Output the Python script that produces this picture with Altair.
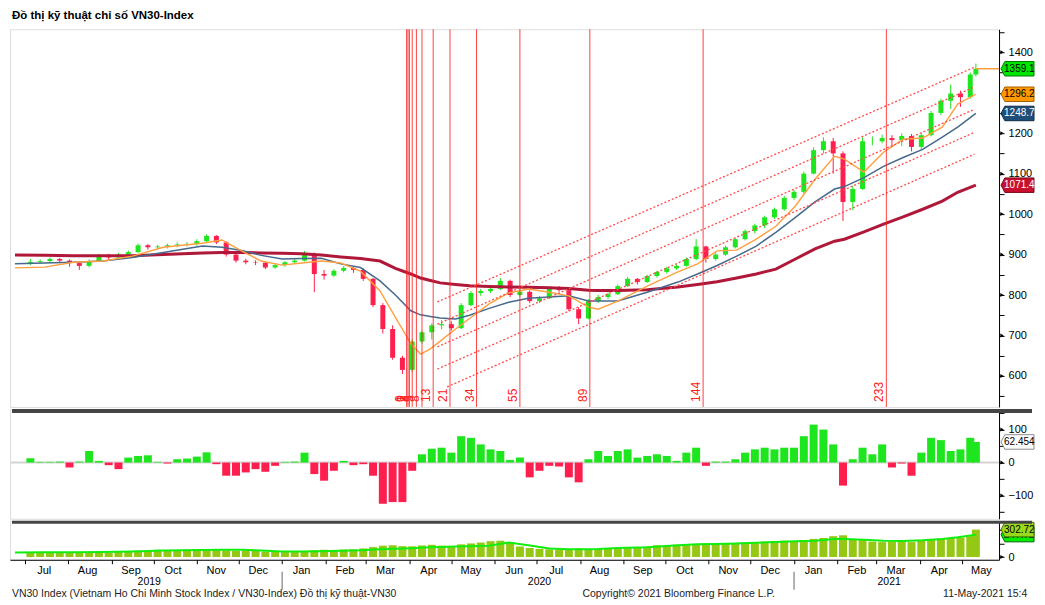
import altair as alt
import pandas as pd

FONT = "Liberation Sans"
W = 990
H1, H2, H3 = 378, 110, 39
GREEN = "#1ee61e"
RED = "#ff1f4f"
ZW = "\u200b"

# ---------------- weekly candles ----------------
dates = [
    "2019-07-05", "2019-07-12", "2019-07-19", "2019-07-26", "2019-08-02", "2019-08-09", "2019-08-16", "2019-08-23",
    "2019-08-30", "2019-09-06", "2019-09-13", "2019-09-20", "2019-09-27", "2019-10-04", "2019-10-11", "2019-10-18",
    "2019-10-25", "2019-11-01", "2019-11-08", "2019-11-15", "2019-11-22", "2019-11-29", "2019-12-06", "2019-12-13",
    "2019-12-20", "2019-12-27",
    "2020-01-03", "2020-01-10", "2020-01-17", "2020-01-24", "2020-01-31", "2020-02-07", "2020-02-14", "2020-02-21",
    "2020-02-28", "2020-03-06", "2020-03-13", "2020-03-20", "2020-03-27", "2020-04-03", "2020-04-10", "2020-04-17",
    "2020-04-24", "2020-05-01", "2020-05-08", "2020-05-15", "2020-05-22", "2020-05-29", "2020-06-05", "2020-06-12",
    "2020-06-19", "2020-06-26", "2020-07-03", "2020-07-10", "2020-07-17", "2020-07-24", "2020-07-31", "2020-08-07",
    "2020-08-14", "2020-08-21", "2020-08-28", "2020-09-04", "2020-09-11", "2020-09-18", "2020-09-25", "2020-10-02",
    "2020-10-09", "2020-10-16", "2020-10-23", "2020-10-30", "2020-11-06", "2020-11-13", "2020-11-20", "2020-11-27",
    "2020-12-04", "2020-12-11", "2020-12-18", "2020-12-25",
    "2021-01-01", "2021-01-08", "2021-01-15", "2021-01-22", "2021-01-29", "2021-02-05", "2021-02-12", "2021-02-19",
    "2021-02-26", "2021-03-05", "2021-03-12", "2021-03-19", "2021-03-26", "2021-04-02", "2021-04-09", "2021-04-16",
    "2021-04-23", "2021-04-30", "2021-05-07", "2021-05-11",
]
opens = [
    878, 882, 884, 889, 885, 879, 872, 884, 898, 893,
    900, 906, 923, 918, 920, 923, 925, 926, 933, 946,
    930, 900, 885, 881, 880, 868, 874, 881, 885, 900,
    852, 848, 860, 867, 862, 840, 775, 716, 645, 615,
    685, 708, 725, 728, 718, 775, 805, 810, 815, 835,
    800, 808, 785, 792, 815, 812, 765, 742, 785, 795,
    802, 822, 840, 832, 847, 857, 866, 872, 889, 920,
    889, 900, 918, 938, 958, 972, 992, 1012, 1040, 1055,
    1100, 1158, 1180, 1150, 1030, 1062, 1180, 1180, 1188, 1183,
    1193, 1166, 1195, 1250, 1280, 1298, 1289, 1345,
]
highs = [
    889, 888, 893, 892, 888, 882, 888, 902, 902, 904,
    910, 927, 926, 924, 927, 930, 931, 938, 950, 948,
    933, 903, 890, 886, 882, 878, 884, 890, 909, 905,
    862, 864, 872, 870, 866, 842, 780, 725, 650, 690,
    712, 730, 738, 735, 780, 810, 815, 822, 842, 838,
    815, 812, 798, 820, 822, 815, 770, 790, 800, 806,
    826, 845, 842, 850, 860, 870, 876, 893, 938, 922,
    905, 922, 942, 962, 976, 996, 1016, 1045, 1060, 1105,
    1165, 1190, 1188, 1155, 1070, 1190, 1192, 1196, 1195, 1200,
    1198, 1200, 1255, 1285, 1320, 1305, 1350, 1372,
]
lows = [
    874, 878, 881, 880, 870, 862, 868, 882, 888, 890,
    896, 904, 912, 913, 915, 918, 920, 922, 930, 926,
    895, 880, 876, 874, 864, 865, 870, 878, 883, 807,
    838, 845, 856, 855, 835, 770, 705, 640, 605, 610,
    680, 690, 715, 712, 716, 772, 798, 805, 812, 795,
    796, 780, 780, 790, 808, 760, 728, 740, 780, 790,
    800, 820, 826, 830, 843, 853, 862, 870, 886, 880,
    885, 897, 915, 935, 952, 965, 988, 1008, 1035, 1050,
    1098, 1150, 1100, 983, 1010, 1060, 1170, 1175, 1165, 1168,
    1155, 1160, 1192, 1245, 1260, 1265, 1285, 1340,
]
closes = [
    882, 884, 889, 885, 879, 872, 884, 898, 893, 900,
    906, 923, 918, 920, 923, 925, 926, 933, 946, 930,
    900, 885, 881, 880, 868, 874, 881, 885, 900, 852,
    848, 860, 867, 862, 840, 775, 716, 645, 615, 685,
    708, 725, 728, 718, 775, 805, 810, 815, 835, 800,
    808, 785, 792, 815, 812, 765, 742, 785, 795, 802,
    822, 840, 832, 847, 857, 866, 872, 889, 920, 889,
    900, 918, 938, 958, 972, 992, 1012, 1040, 1055, 1100,
    1158, 1180, 1150, 1030, 1062, 1180, 1180, 1188, 1183, 1193,
    1166, 1195, 1250, 1280, 1298, 1289, 1345, 1359.19,
]
oscillator = [
    13, 2, 2, 3, -15, 3, 35, 5, -8, -20,
    15, 20, 22, 2, -3, 10, 12, 18, 31, -5,
    -40, -40, -30, -20, -28, -10, 2, 3, 30, -35,
    -55, -25, 5, -8, -5, -40, -125, -120, -120, -25,
    25, 42, 45, 30, 80, 75, 55, 40, 35, 8,
    15, -45, -25, -10, -12, -45, -60, 10, 35, 20,
    35, 40, 15, 20, 25, 20, 5, 30, 45, -10,
    3, 3, 10, 30, 40, 45, 40, 45, 45, 80,
    115, 100, 55, -70, 10, 45, 25, 55, -15, -3,
    -40, 30, 75, 68, 35, 40, 75, 62.4543,
]
volume = [
    45, 48, 50, 47, 52, 55, 48, 50, 46, 60,
    62, 70, 65, 80, 78, 75, 82, 85, 78, 76,
    74, 70, 72, 68, 60, 58, 55, 56, 60, 75,
    80, 78, 82, 85, 95, 110, 125, 130, 120, 118,
    128, 135, 125, 120, 140, 150, 160, 175, 180, 165,
    115, 100, 90, 85, 82, 88, 95, 85, 90, 100,
    95, 110, 105, 115, 130, 125, 135, 140, 145, 150,
    145, 155, 150, 160, 165, 170, 175, 180, 170, 185,
    200, 210, 230, 240, 200, 190, 170, 165, 170, 175,
    165, 190, 200, 205, 210, 215, 230, 302.727,
]

# ---------------- moving averages ----------------
ma_dates = [
    "2019-06-24", "2019-07-15", "2019-08-05", "2019-08-26", "2019-09-16", "2019-10-08", "2019-11-05", "2019-11-19",
    "2019-12-03", "2019-12-17",
    "2020-01-01", "2020-01-15", "2020-01-29", "2020-02-12", "2020-02-26", "2020-03-11", "2020-03-22", "2020-04-02",
    "2020-04-09", "2020-04-16", "2020-04-23", "2020-05-04", "2020-05-14", "2020-05-28", "2020-06-11", "2020-06-25",
    "2020-07-10", "2020-07-24", "2020-08-07", "2020-08-14", "2020-08-28", "2020-09-18", "2020-10-10", "2020-10-24",
    "2020-11-07", "2020-11-21", "2020-12-05", "2020-12-19",
    "2021-01-02", "2021-01-16", "2021-01-30", "2021-02-06", "2021-02-20", "2021-03-06", "2021-03-20", "2021-04-03",
    "2021-04-17", "2021-04-28", "2021-05-11",
]
ma_fast = [
    867, 869, 881, 884, 896, 918, 928, 936, 909, 884,
    874, 879, 884, 879, 859, 810, 745, 680, 654, 667, 686, 716, 742, 778, 805, 815,
    807, 798, 770, 765, 785, 822, 857, 877, 909, 911, 938, 970,
    1020, 1086, 1143, 1136, 1104, 1153, 1185, 1188, 1215, 1272, 1296.22,
]
ma_mid = [
    877, 879, 881, 884, 893, 905, 921, 918, 910, 898,
    889, 890, 891, 877, 868, 835, 800, 761, 751, 747, 743, 741, 750, 767, 782, 792,
    795, 798, 785, 785, 785, 807, 832, 852, 873, 896, 921, 955,
    992, 1030, 1062, 1068, 1090, 1118, 1140, 1160, 1190, 1215, 1248.70,
]
ma_slow = [
    899, 898, 897, 897, 897, 900, 904, 905, 905, 904,
    903, 902, 899, 894, 890, 884, 866, 852, 842, 836, 830, 826, 823, 821, 820, 819,
    818, 816, 812, 811, 811, 813, 820, 826, 833, 842, 852, 864,
    889, 914, 933, 938, 956, 975, 993, 1012, 1032, 1054, 1071.46,
]
vol_ma = [
    50, 52, 54, 55, 62, 72, 78, 80, 80, 72,
    62, 60, 64, 70, 75, 85, 92, 98, 102, 108, 110, 115, 118, 125, 160, 130,
    95, 85, 85, 88, 100, 108, 130, 140, 145, 150, 158, 165,
    175, 180, 200, 198, 190, 180, 178, 185, 200, 218, 245,
]

# ---------------- Fibonacci time zones & channel ----------------
fib_dates = ["2020-03-30", "2020-03-31", "2020-04-01", "2020-04-03", "2020-04-06", "2020-04-10", "2020-04-18",
             "2020-04-30", "2020-05-19", "2020-06-19", "2020-08-08", "2020-10-28", "2021-03-08"]
fib_labels = ["0", "1", "2", "3", "5", "8", "13", "21", "34", "55", "89", "144", "233"]

chan_start = ["2020-04-21", "2020-04-21", "2020-04-21", "2020-04-21", "2020-04-28"]
chan_end = ["2021-05-10", "2021-05-10", "2021-05-10", "2021-05-10", "2021-05-10"]
chan_v0 = [783, 728, 672, 617, 573]
chan_v1 = [1363, 1314, 1259, 1202, 1148]

# ---------------- axis texts ----------------
year_dates = ["2019-09-28", "2020-07-03", "2021-03-10"]
year_labels = ["2019", "2020", "2021"]
year_sep_dates = ["2020-01-01", "2021-01-01"]
main_tick_vals = [550, 600, 650, 700, 750, 800, 850, 900, 950, 1000, 1050, 1100, 1150, 1200, 1250, 1300, 1350,
                  1400, 1450]
main_label_vals = [600, 700, 800, 900, 1000, 1100, 1200, 1400]
osc_label_vals = [-100, 0, 100]
vol_label_vals = [0]

main_tag_vals = [1359.19, 1296.22, 1248.70, 1071.46]
main_tag_text = ["1359.19", "1296.22", "1248.70", "1071.46"]
main_tag_fill = ["#00e600", "#ff9900", "#1f4e79", "#c8102e"]
main_tag_stroke = ["#007a00", "#a65f00", "#0d2a45", "#7a0a1c"]
main_tag_tc = ["black", "black", "white", "white"]
osc_tag_vals = [62.4543]
osc_tag_text = ["62.4543"]
vol_tag_vals = [247.7, 302.727]
vol_tag_text = ["247.723", "302.727"]
vol_tag_fill = ["#00ee00", "#9ad91e"]
vol_tag_stroke = ["#006600", "#4d7000"]

title_text = "Đồ thị kỹ thuật chỉ số VN30-Index"
footer_left = "VN30 Index (Vietnam Ho Chi Minh Stock Index / VN30-Index) Đồ thị kỹ thuật-VN30"
footer_mid = "Copyright© 2021 Bloomberg Finance L.P."
footer_right = "11-May-2021 15:47:17"

# ---------------- frames ----------------
df = pd.DataFrame({"date": pd.to_datetime(dates), "open": opens, "high": highs, "low": lows,
                   "close": closes, "osc": oscillator, "vol": volume})
df["dir"] = ["up" if c >= o else "down" for o, c in zip(opens, closes)]
df["osign"] = ["pos" if v >= 0 else "neg" for v in oscillator]
ma = pd.DataFrame({"date": pd.to_datetime(ma_dates), "fast": ma_fast, "mid": ma_mid, "slow": ma_slow, "vma": vol_ma})
fib = pd.DataFrame({"date": pd.to_datetime(fib_dates), "lab": fib_labels})
chan = pd.DataFrame({"date": pd.to_datetime(chan_start), "end": pd.to_datetime(chan_end), "v0": chan_v0, "v1": chan_v1})
years = pd.DataFrame({"date": pd.to_datetime(year_dates), "lab": year_labels})
ysep = pd.DataFrame({"date": pd.to_datetime(year_sep_dates)})
last = pd.DataFrame({"date": pd.to_datetime([dates[-1]]), "v": [closes[-1]]})

XS = alt.Scale(domain=[alt.DateTime(year=2019, month=6, date=24), alt.DateTime(year=2021, month=5, date=24)])
MS = alt.Scale(domain=[523.5, 1456.8], nice=False, zero=False)
OS = alt.Scale(domain=[-170.6, 162.7], nice=False, zero=False)
VS = alt.Scale(domain=[-30, 400], nice=False, zero=False)


def raxis(vals, labelled):
    expr = "indexof([" + ",".join(str(v) for v in labelled) + "], datum.value) >= 0 ? datum.label : ''"
    return alt.Axis(orient="right", values=vals, labelExpr=expr, format="d", tickSize=5, tickColor="black",
                    domainColor="black", labelFont=FONT, labelFontSize=11, labelColor="black", grid=False,
                    title=None, labelPadding=4)


MA_AX = raxis(main_tick_vals, main_label_vals)
OS_AX = raxis([-150, -100, -50, 0, 50, 100, 150], osc_label_vals)
VS_AX = raxis([0, 150, 300], vol_label_vals)
X_AX = alt.Axis(format="%b", tickCount=alt.TimeIntervalStep(interval="month", step=1), labelOffset=19,
                labelAlign="center", labelOverlap=False, labelFlush=False, tickSize=4, tickColor="black",
                domainColor="black", labelFont=FONT, labelFontSize=11, labelColor="black", title=None,
                grid=False, labelPadding=1)

TAG = "M -1 0 L -0.77 -0.44 L 1 -0.44 L 1 0.44 L -0.77 0.44 Z"


def X(field="date", axis=None):
    return alt.X(field, type="temporal", scale=XS, axis=axis, title=None)


def Y(field, scale, axis):
    return alt.Y(field, type="quantitative", scale=scale, axis=axis, title=None)


def tags(vals, texts, fills, strokes, tcs, scale, axis):
    out = []
    for v, t, f, s, tc in zip(vals, texts, fills, strokes, tcs):
        d = pd.DataFrame({"v": [v], "t": [t]})
        out.append(alt.Chart(d).mark_point(shape=TAG, size=1089, filled=True, opacity=1, strokeWidth=1,
                                           fill=f, stroke=s).encode(x=alt.value(W + 18.5), y=Y("v", scale, axis)))
        out.append(alt.Chart(d).mark_text(align="left", baseline="middle", font=FONT, fontSize=10, limit=31,
                                          ellipsis=ZW, color=tc).encode(
            x=alt.value(W + 5), y=Y("v", scale, axis), text="t:N"))
    return out


def arrows(vals, scale, axis):
    return alt.Chart(pd.DataFrame({"v": vals})).mark_point(shape="triangle-right", filled=True, size=16,
                                                           color="black", opacity=1).encode(
        x=alt.value(W + 3), y=Y("v", scale, axis))


cdir = alt.Color("dir:N", scale=alt.Scale(domain=["up", "down"], range=[GREEN, RED]), legend=None)

# ---------------- main panel ----------------
wick = alt.Chart(df).mark_rule(strokeWidth=1).encode(x=X(), y=Y("low", MS, MA_AX), y2="high", color=cdir)
body = alt.Chart(df).mark_bar(size=5).encode(x=X(), y=Y("open", MS, MA_AX), y2="close", color=cdir)
l_slow = alt.Chart(ma).mark_line(color="#b0183a", strokeWidth=3).encode(x=X(), y=Y("slow", MS, MA_AX))
l_mid = alt.Chart(ma).mark_line(color="#46698c", strokeWidth=1.5).encode(x=X(), y=Y("mid", MS, MA_AX))
l_fast = alt.Chart(ma).mark_line(color="#ffa040", strokeWidth=1.4).encode(x=X(), y=Y("fast", MS, MA_AX))
chan_l = alt.Chart(chan).mark_rule(color="#ff4d4d", strokeWidth=1.3, strokeDash=[2, 2]).encode(
    x=X(), x2="end:T", y=Y("v0", MS, MA_AX), y2="v1")
fib_l = alt.Chart(fib).mark_rule(color="#ff2020", strokeWidth=1, opacity=0.85).encode(x=X())
fib_t = alt.Chart(fib).mark_text(angle=270, align="left", baseline="bottom", color="#ff2020", font=FONT,
                                 fontSize=12).encode(x=X(), y=alt.value(H1 - 5), text="lab:N")
last_l = alt.Chart(last).mark_rule(color="#ffa040", strokeWidth=1.5).encode(
    x=X(), x2=alt.value(W), y=Y("v", MS, MA_AX))
title_t = alt.Chart(pd.DataFrame({"t": [title_text]})).mark_text(
    align="left", baseline="middle", font=FONT, fontSize=11.5, fontWeight="bold", color="black").encode(
    x=alt.value(2), y=alt.value(-13), text="t:N")

main = alt.layer(wick, body, l_slow, l_mid, l_fast, chan_l, fib_l, fib_t, last_l,
                 arrows(main_label_vals, MS, MA_AX),
                 *tags(main_tag_vals, main_tag_text, main_tag_fill, main_tag_stroke, main_tag_tc, MS, MA_AX),
                 title_t).properties(width=W, height=H1)

# ---------------- oscillator panel ----------------
sep1 = alt.Chart(pd.DataFrame({"a": [0]})).mark_rule(color="#454545", strokeWidth=4).encode(
    x=alt.value(2), x2=alt.value(W + 33), y=alt.value(2))
zero = alt.Chart(pd.DataFrame({"v": [0]})).mark_rule(color="#d4d4d4", strokeWidth=2).encode(
    x=alt.value(1), x2=alt.value(W), y=Y("v", OS, OS_AX))
obars = alt.Chart(df).mark_bar(size=8).encode(
    x=X(), y=Y("osc", OS, OS_AX), y2=alt.datum(0),
    color=alt.Color("osign:N", scale=alt.Scale(domain=["pos", "neg"], range=["#19f019", "#ff1010"]), legend=None))
osc = alt.layer(zero, obars, arrows(osc_label_vals, OS, OS_AX),
                *tags(osc_tag_vals, osc_tag_text, ["white"], ["#8c8c8c"], ["black"], OS, OS_AX),
                sep1).properties(width=W, height=H2)

# ---------------- volume panel ----------------
sep2 = alt.Chart(pd.DataFrame({"a": [0]})).mark_rule(color="#454545", strokeWidth=3).encode(
    x=alt.value(2), x2=alt.value(W + 33), y=alt.value(1.5))
vbars = alt.Chart(df).mark_bar(size=8, color="#95c814").encode(
    x=X(axis=X_AX), y=Y("vol", VS, VS_AX), y2=alt.datum(0))
vline = alt.Chart(ma).mark_line(color="#10ee10", strokeWidth=2).encode(x=X(axis=X_AX), y=Y("vma", VS, VS_AX))
ysep_l = alt.Chart(ysep).mark_rule(color="#666666", strokeWidth=1).encode(
    x=X(axis=X_AX), y=alt.value(H3 + 12), y2=alt.value(H3 + 30))
year_t = alt.Chart(years).mark_text(font=FONT, fontSize=10.5, color="black", baseline="middle").encode(
    x=X(axis=X_AX), y=alt.value(H3 + 22), text="lab:N")
foot = pd.DataFrame({"t": [footer_left, footer_mid], "x": [2, 573]})
foot_t = alt.Chart(foot).mark_text(font=FONT, fontSize=10.5, color="#222222", align="left",
                                   baseline="middle").encode(
    x=alt.X("x:Q", scale=None, axis=None), y=alt.value(H3 + 34), text="t:N")
foot_r = alt.Chart(pd.DataFrame({"t": [footer_right]})).mark_text(
    font=FONT, fontSize=10.5, color="#222222", align="left", baseline="middle", limit=90, ellipsis=ZW).encode(
    x=alt.value(934), y=alt.value(H3 + 34), text="t:N")
vol = alt.layer(vbars, vline, ysep_l, year_t, foot_t, foot_r, arrows(vol_label_vals, VS, VS_AX),
                *tags(vol_tag_vals, vol_tag_text, vol_tag_fill, vol_tag_stroke, ["black", "black"], VS, VS_AX),
                sep2).properties(width=W, height=H3)

chart = alt.vconcat(main, osc, vol, spacing=0).properties(
    padding={"left": 0, "top": 1, "right": 0, "bottom": 0}, background="white"
).configure_view(stroke=None).configure(font=FONT)

chart.save("out.html", embed_options={"renderer": "svg", "actions": False})
